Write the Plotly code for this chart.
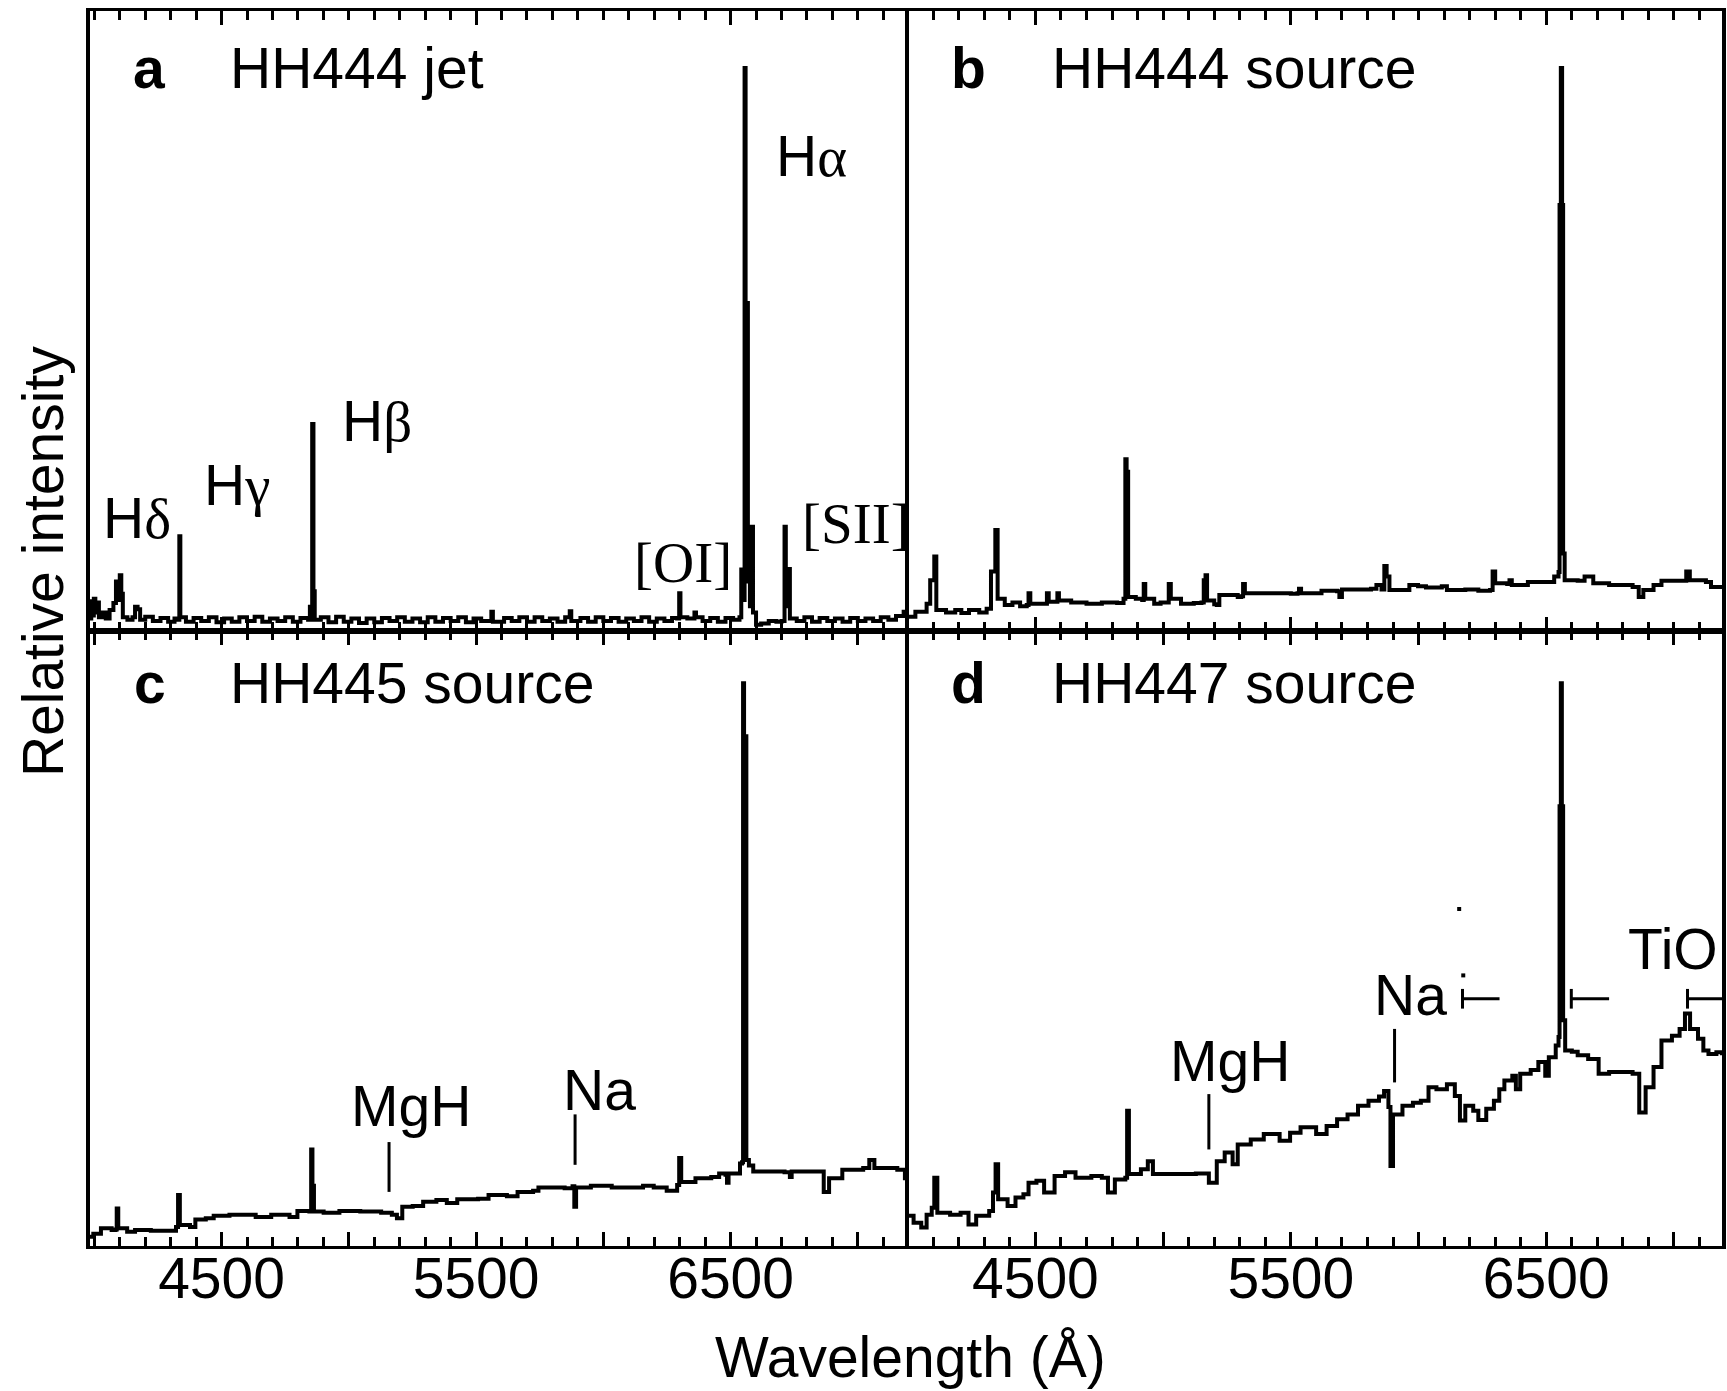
import plotly.graph_objects as go

# ---------------- data (wavelength in Angstrom, relative intensity) ----------------
# Panel a: HH444 jet
a_wl = [3983, 3988, 3993, 3998, 4004, 4012, 4018, 4030, 4045, 4060, 4075, 4085, 4093, 4100, 4106, 4112,
        4130, 4150, 4160, 4170, 4180, 4200, 4230, 4260, 4290, 4315, 4328, 4334, 4338, 4360, 4390, 4420,
        4450, 4480, 4510, 4540, 4570, 4600, 4630, 4660, 4690, 4720, 4750, 4780, 4810, 4840, 4847, 4851,
        4856, 4861, 4866, 4890, 4920, 4950, 4980, 5010, 5040, 5070, 5100, 5130, 5160, 5190, 5220, 5250,
        5280, 5310, 5340, 5370, 5400, 5430, 5460, 5490, 5520, 5560, 5566, 5610, 5640, 5670, 5700, 5730,
        5760, 5790, 5820, 5850, 5868, 5874, 5910, 5940, 5970, 6000, 6030, 6060, 6090, 6120, 6150, 6180,
        6210, 6240, 6270, 6290, 6298, 6303, 6330, 6358, 6364, 6390, 6420, 6450, 6480, 6510, 6535, 6542,
        6550, 6555, 6559, 6563, 6568, 6576, 6583, 6588, 6600, 6620, 6650, 6680, 6700, 6712, 6717, 6727,
        6733, 6760, 6790, 6820, 6850, 6880, 6910, 6940, 6970, 7000, 7030, 7060, 7090, 7120, 7150, 7180,
        7201]
a_int = [2.0, 4.8, 2.5, 5.2, 3.0, 4.6, 2.2, 3.0, 2.0, 3.4, 4.5, 8.0, 5.0, 9.0, 6.0, 2.2,
         1.8, 2.2, 3.9, 3.5, 1.8, 2.3, 1.6, 2.1, 1.5, 2.0, 1.8, 15.3, 2.2, 1.5, 2.1, 1.6,
         2.2, 1.4, 2.0, 1.5, 2.2, 1.6, 2.3, 1.5, 2.0, 1.6, 2.2, 1.5, 2.1, 1.8, 3.9, 1.8,
         33.4, 6.4, 1.8, 2.2, 1.4, 2.3, 1.5, 2.0, 1.3, 2.0, 1.4, 2.1, 1.6, 2.2, 1.5, 2.0,
         1.4, 2.2, 1.5, 2.1, 1.6, 2.2, 1.4, 2.0, 1.6, 3.1, 1.5, 2.1, 1.6, 2.2, 1.5, 2.2,
         1.6, 2.0, 1.5, 2.2, 3.2, 1.6, 2.1, 1.5, 2.2, 1.6, 2.1, 1.5, 2.0, 1.6, 2.2, 1.5,
         2.0, 1.6, 2.1, 2.0, 6.1, 2.2, 2.0, 3.0, 2.2, 1.6, 2.1, 1.5, 2.1, 1.8, 2.2, 9.9,
         5.0, 90.8, 52.9, 52.9, 8.0, 4.0, 16.8, 3.0, 1.0, 1.2, 1.6, 1.5, 1.6, 16.8, 4.0, 10.0,
         2.0, 1.6, 2.2, 1.5, 2.1, 1.6, 2.0, 1.5, 2.1, 1.6, 2.0, 1.6, 2.2, 1.8, 2.4, 3.1,
         2.0]

# Panel b: HH444 source
b_wl = [4005, 4030, 4074, 4088, 4104, 4112, 4150, 4186, 4210, 4240, 4280, 4309, 4326, 4343, 4352, 4380,
        4410, 4440, 4466, 4473, 4480, 4540, 4545, 4552, 4580, 4586, 4592, 4640, 4700, 4760, 4820, 4845,
        4852, 4857, 4863, 4893, 4918, 4924, 4930, 4965, 4990, 5015, 5022, 5030, 5070, 5120, 5150, 5159,
        5166, 5172, 5200, 5210, 5220, 5292, 5306, 5313, 5320, 5415, 5500, 5526, 5532, 5540, 5620, 5681,
        5690, 5700, 5814, 5835, 5855, 5866, 5875, 5886, 5947, 5964, 5998, 6029, 6091, 6111, 6183, 6234,
        6280, 6290, 6300, 6347, 6356, 6365, 6428, 6500, 6531, 6548, 6552, 6557, 6562, 6566, 6572, 6623,
        6650, 6670, 6684, 6746, 6838, 6862, 6880, 6920, 6951, 7032, 7048, 7062, 7125, 7145, 7188]
b_int = [2.3, 3.1, 4.4, 8.2, 12.0, 3.4, 3.0, 3.4, 2.9, 3.4, 3.0, 3.6, 9.6, 16.3, 5.2, 4.2,
         4.6, 4.0, 4.2, 6.1, 4.4, 4.4, 6.1, 4.7, 4.7, 6.1, 4.9, 4.6, 4.4, 4.6, 4.5, 5.2,
         27.7, 25.7, 5.5, 5.2, 5.0, 7.6, 5.2, 4.4, 4.6, 4.6, 7.6, 5.2, 4.4, 4.5, 4.6, 8.2,
         9.0, 4.9, 4.3, 4.2, 5.8, 5.5, 5.6, 7.6, 6.1, 6.1, 6.0, 6.1, 6.8, 6.1, 6.5, 6.4,
         5.5, 6.7, 6.8, 7.4, 6.7, 10.5, 8.8, 6.6, 6.6, 7.4, 7.2, 7.0, 7.2, 6.6, 6.7, 6.5,
         6.6, 9.6, 7.7, 7.6, 8.2, 7.4, 7.9, 7.9, 8.8, 9.5, 68.7, 90.8, 68.7, 12.5, 8.2, 8.1,
         8.8, 8.8, 7.7, 7.4, 7.1, 5.5, 6.6, 7.4, 8.1, 8.1, 9.6, 8.2, 7.9, 7.1, 7.1]

# Panel c: HH445 source
c_wl = [3983, 3996, 4026, 4068, 4083, 4088, 4094, 4129, 4160, 4222, 4304, 4321, 4329, 4336, 4376, 4397,
        4438, 4469, 4531, 4634, 4695, 4767, 4798, 4845, 4852, 4857, 4863, 4901, 4963, 5045, 5127, 5169,
        5189, 5210, 5251, 5292, 5344, 5385, 5426, 5508, 5549, 5621, 5663, 5724, 5745, 5848, 5879, 5886,
        5893, 5951, 6033, 6156, 6198, 6249, 6290, 6298, 6306, 6362, 6424, 6455, 6480, 6486, 6492, 6517,
        6537, 6545, 6549, 6553, 6558, 6562, 6572, 6589, 6712, 6733, 6740, 6836, 6866, 6887, 6939, 7021,
        7045, 7065, 7155, 7185, 7201]
c_int = [1.5, 2.0, 2.9, 2.6, 2.7, 6.1, 2.9, 2.3, 2.6, 2.5, 2.5, 3.1, 8.3, 3.4, 3.1, 4.3,
         4.5, 4.9, 5.1, 4.7, 5.1, 4.7, 5.7, 5.6, 15.7, 9.8, 5.6, 5.4, 5.7, 5.6, 5.4, 5.1,
         4.5, 6.4, 6.5, 7.2, 7.5, 7.0, 7.6, 7.7, 8.3, 8.1, 8.8, 9.0, 9.5, 9.4, 9.7, 6.4,
         9.5, 9.8, 9.5, 9.8, 9.5, 9.0, 9.9, 14.3, 10.4, 11.0, 11.2, 11.8, 11.6, 10.3, 11.8, 11.8,
         13.4, 13.6, 91.5, 82.9, 82.9, 14.0, 13.1, 12.1, 12.0, 11.2, 12.1, 12.1, 8.8, 11.0, 12.4, 12.7,
         14.0, 12.7, 12.4, 11.0, 11.2]

# Panel d: HH447 source
d_wl = [4005, 4023, 4053, 4074, 4094, 4104, 4116, 4166, 4207, 4238, 4268, 4319, 4334, 4344, 4354, 4391,
        4422, 4453, 4473, 4504, 4534, 4575, 4616, 4657, 4719, 4760, 4784, 4811, 4852, 4859, 4866, 4913,
        4940, 4960, 5046, 5128, 5179, 5210, 5241, 5272, 5292, 5343, 5394, 5456, 5497, 5538, 5599, 5640,
        5681, 5722, 5763, 5804, 5845, 5865, 5882, 5890, 5900, 5937, 5978, 6009, 6039, 6070, 6111, 6142,
        6162, 6183, 6214, 6234, 6265, 6295, 6316, 6336, 6367, 6381, 6398, 6439, 6469, 6496, 6510, 6537,
        6548, 6552, 6557, 6561, 6566, 6574, 6600, 6623, 6664, 6705, 6746, 6787, 6838, 6864, 6889, 6920,
        6951, 6992, 7022, 7043, 7063, 7094, 7115, 7135, 7166, 7188]
d_int = [4.9, 3.8, 3.0, 5.1, 6.2, 11.1, 5.4, 5.1, 5.4, 3.5, 4.9, 5.7, 8.7, 13.3, 7.6, 6.5,
         7.9, 8.4, 10.3, 10.6, 8.7, 11.4, 12.0, 11.1, 11.4, 11.1, 8.7, 10.8, 11.1, 22.0, 11.7, 12.5,
         13.8, 11.7, 11.7, 11.8, 10.3, 13.8, 15.2, 13.3, 16.5, 17.3, 18.2, 17.1, 18.4, 19.3, 18.2, 19.5,
         20.6, 21.4, 22.8, 23.6, 24.3, 25.2, 22.6, 13.0, 21.4, 22.8, 23.3, 23.6, 25.8, 25.5, 26.3, 24.4,
         20.4, 22.8, 22.0, 20.5, 22.3, 23.6, 25.5, 26.9, 27.7, 25.5, 28.0, 28.6, 29.9, 27.7, 30.7, 32.6,
         34.0, 71.5, 91.5, 71.5, 36.7, 31.8, 31.6, 31.0, 30.4, 28.0, 28.3, 28.3, 28.0, 21.7, 25.8, 29.1,
         33.4, 34.2, 35.3, 37.8, 35.3, 33.7, 31.8, 31.2, 31.5, 31.0]

# feature marker ticks (MgH, Na)
c_feat_wl = [5158, 5889]
c_feat_lo = [8.8, 13.2]
c_feat_hi = [16.9, 21.4]
d_feat_wl = [5179, 5906]
d_feat_lo = [15.7, 26.6]
d_feat_hi = [24.7, 35.3]
# TiO band brackets in panel d
tio_start = [6172, 6598, 7053]
tio_end = [6317, 6746, 7188]
tio_level = 40.2
tio_tick = [38.6, 41.8]
tio_dot_wl = [6159, 6175]
tio_dot_y = [54.8, 44.0]

tick_values = [4000, 4500, 5000, 5500, 6000, 6500, 7000]
tick_labels = ["", "4500", "", "5500", "", "6500", ""]

# ---------------- figure ----------------
FONT = "Liberation Sans, Arial, sans-serif"
SERIF = "Liberation Serif, Times New Roman, serif"
LW = 4

fig = go.Figure()

def spec(x, y, xa, ya):
    fig.add_trace(go.Scatter(x=x, y=y, mode="lines", xaxis=xa, yaxis=ya,
                             line=dict(color="black", width=LW, shape="hv"), hoverinfo="skip",
                             showlegend=False))

spec(a_wl, a_int, "x", "y")
spec(b_wl, b_int, "x2", "y2")
spec(c_wl, c_int, "x3", "y3")
spec(d_wl, d_int, "x4", "y4")

def ticks(wls, los, his, xa, ya):
    xs, ys = [], []
    for w, lo, hi in zip(wls, los, his):
        xs += [w, w, None]
        ys += [lo, hi, None]
    fig.add_trace(go.Scatter(x=xs, y=ys, mode="lines", xaxis=xa, yaxis=ya,
                             line=dict(color="black", width=3), hoverinfo="skip",
                             showlegend=False))

ticks(c_feat_wl, c_feat_lo, c_feat_hi, "x3", "y3")
ticks(d_feat_wl, d_feat_lo, d_feat_hi, "x4", "y4")

tx, ty = [], []
for s, e in zip(tio_start, tio_end):
    tx += [s, s, None, s, e, None]
    ty += [tio_tick[0], tio_tick[1], None, tio_level, tio_level, None]
fig.add_trace(go.Scatter(x=tx, y=ty, mode="lines", xaxis="x4", yaxis="y4",
                         line=dict(color="black", width=3), hoverinfo="skip", showlegend=False))
fig.add_trace(go.Scatter(x=tio_dot_wl, y=tio_dot_y, mode="markers", xaxis="x4", yaxis="y4",
                         marker=dict(color="black", size=4, symbol="square"),
                         hoverinfo="skip", showlegend=False))

W, H = 1727, 1391
ML, MR, MT, MB = 90, 1, 11, 145
xsplit = (911 - ML) / (W - ML - MR)
ysplit = (1246 - 631) / (1246 - MT)

def xax(domain, rng, labels):
    return dict(domain=domain, range=rng, showline=True, linewidth=2.5, linecolor="black",
                mirror="allticks", ticks="inside", ticklen=14, tickwidth=3, tickcolor="black",
                tickmode="array", tickvals=tick_values, ticktext=tick_labels,
                showticklabels=labels, showgrid=False, zeroline=False, fixedrange=True,
                tickfont=dict(family=FONT, size=57, color="black"), ticklabelstandoff=-19,
                minor=dict(ticks="inside", ticklen=9, tickwidth=3, tickcolor="black",
                           tickmode="linear", tick0=4000, dtick=100, showgrid=False))

def yax(domain, anchor, mirror):
    return dict(domain=domain, range=[0, 100], showline=True, linewidth=4, linecolor="black",
                mirror=mirror, ticks="", showticklabels=False, showgrid=False, zeroline=False,
                fixedrange=True, anchor=anchor)

L_RANGE = [3983, 7201]
R_RANGE = [4005, 7188]

fig.update_layout(
    width=W, height=H, autosize=False,
    margin=dict(l=ML, r=MR, t=MT, b=MB, pad=0),
    paper_bgcolor="white", plot_bgcolor="white",
    font=dict(family=FONT, size=57, color="black"),
    xaxis=dict(xax([0, xsplit], L_RANGE, False), anchor="y"),
    xaxis2=dict(xax([xsplit, 1], R_RANGE, False), anchor="y2"),
    xaxis3=dict(xax([0, xsplit], L_RANGE, True), anchor="y3"),
    xaxis4=dict(xax([xsplit, 1], R_RANGE, True), anchor="y4"),
    yaxis=yax([ysplit, 1], "x", False),
    yaxis2=yax([ysplit, 1], "x2", True),
    yaxis3=yax([0, ysplit], "x3", False),
    yaxis4=yax([0, ysplit], "x4", True),
)

ann = []
def A(text, x, y, xr, yr, xanchor="left", bold=False, family=FONT):
    ann.append(dict(text=("<b>%s</b>" % text) if bold else text, x=x, y=y, xref=xr, yref=yr,
                    xanchor=xanchor, yanchor="middle", showarrow=False,
                    font=dict(family=family, size=57, color="black")))

greek = '<span style="font-family:Liberation Serif, Times New Roman, serif">%s</span>'

A("a", 4218, 90.8, "x", "y", "center", True)
A("HH444 jet", 4524, 90.8, "x", "y")
A("b", 4239, 90.8, "x2", "y2", "center", True)
A("HH444 source", 4556, 90.8, "x2", "y2")
A("c", 4218, 91.5, "x3", "y3", "center", True)
A("HH445 source", 4524, 91.5, "x3", "y3")
A("d", 4239, 91.5, "x4", "y4", "center", True)
A("HH447 source", 4556, 91.5, "x4", "y4")

A("H" + greek % "α", 6672, 76.6, "x", "y")
A("H" + greek % "β", 4967, 33.9, "x", "y")
A("H" + greek % "γ", 4422, 23.5, "x", "y")
A("H" + greek % "δ", 4026, 18.2, "x", "y")
A("[OI]", 6112, 11.1, "x", "y", family=SERIF)
A("[SII]", 6774, 17.3, "x", "y", family=SERIF)

A("MgH", 5002, 22.8, "x3", "y3")
A("Na", 5833, 25.4, "x3", "y3")
A("MgH", 5020, 30.1, "x4", "y4")
A("Na", 5817, 40.8, "x4", "y4")
A("TiO", 6812, 48.3, "x4", "y4")

ann.append(dict(text="Relative intensity", x=(43 - ML) / (W - ML - MR), y=(1246 - 562) / (1246 - MT),
                xref="paper", yref="paper", xanchor="center", yanchor="middle", textangle=-90,
                showarrow=False, font=dict(family=FONT, size=57, color="black")))
ann.append(dict(text="Wavelength (Å)", x=(913 - ML) / (W - ML - MR), y=(1246 - 1357) / (1246 - MT),
                xref="paper", yref="paper", xanchor="center", yanchor="middle",
                showarrow=False, font=dict(family=FONT, size=57, color="black")))

fig.update_layout(annotations=ann)

fig.write_html("out.html", config={"displayModeBar": False},
               post_script="document.body.style.margin='0px';document.body.style.overflow='hidden';")
